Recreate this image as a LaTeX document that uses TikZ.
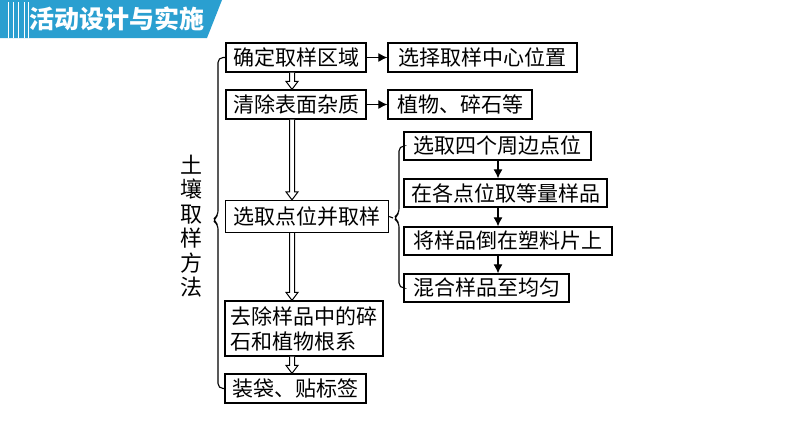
\documentclass[tikz,border=0pt]{standalone}
\usepackage{fontspec}
\setmainfont{Noto Sans CJK SC}
\usetikzlibrary{arrows.meta,calc}
\definecolor{hblue}{HTML}{2A9FD0}
\tikzset{
 bx/.style={draw,line width=1.3pt,inner sep=0pt,font=\fontsize{21}{25}\selectfont,align=left},
 sarr/.style={line width=1.1pt,-{Latex[length=9pt,width=9pt]}},
 hol/.style={draw,line width=1pt,fill=white,line join=miter},
 brc/.style={line width=1.1pt,rounded corners=5pt}
}
\newcommand{\hollowarrow}[2]{%
 \path[hol] let \p1=(#1), \p2=(#2) in
  (\x1-2.5,\y1) -- (\x1-2.5,\y2+8) -- (\x1-6,\y2+8) -- (\x1,\y2) -- (\x1+6,\y2+8) -- (\x1+2.5,\y2+8) -- (\x1+2.5,\y1);}
\begin{document}
\begin{tikzpicture}[x=1pt,y=-1pt]
\useasboundingbox (0,0) rectangle (794,447);
% header
\fill[hblue] (0,0) -- (222,0) -- (207,38) -- (0,38) -- cycle;
\foreach \xx in {8,13,18,24,28} \draw[white,line width=1pt] (\xx,2) -- (\xx,38);
\node[anchor=west,text=white,font=\fontsize{25}{28}\bfseries\selectfont,inner sep=0pt] (hd) at (29,19) {活动设计与实施};
% boxes
\node[bx,minimum width=140,minimum height=29] (b1) at (296,57.5) {确定取样区域};
\node[bx,minimum width=140,minimum height=29] (b2) at (296,104.5) {清除表面杂质};
\node[bx,minimum width=163,minimum height=32] (b3) at (307,216.5) {选取点位并取样};
\node[bx,minimum width=158,minimum height=55] (b4) at (304,328.5) {去除样品中的碎\\石和植物根系};
\node[bx,minimum width=141,minimum height=29] (b5) at (295.5,388.5) {装袋、贴标签};
\node[bx,minimum width=189,minimum height=29] (r1) at (482.5,57.5) {选择取样中心位置};
\node[bx,minimum width=144,minimum height=29] (r2) at (460,104.5) {植物、碎石等};
\node[bx,minimum width=187,minimum height=28] (s1) at (497.5,146) {选取四个周边点位};
\node[bx,minimum width=203,minimum height=28] (s2) at (505.5,193) {在各点位取等量样品};
\node[bx,minimum width=208,minimum height=28] (s3) at (508,241) {将样品倒在塑料片上};
\node[bx,minimum width=165,minimum height=28] (s4) at (486.5,288) {混合样品至均匀};
% arrows
\draw[sarr] (b1) -- (r1);
\draw[sarr] (b2) -- (r2);
\coordinate (ax) at (498,0);
\draw[sarr] (s1.south -| ax) -- (s2.north -| ax);
\draw[sarr] (s2.south -| ax) -- (s3.north -| ax);
\draw[sarr] (s3.south -| ax) -- (s4.north -| ax);
\coordinate (hx) at (292,0);
\hollowarrow{b1.south -| hx}{b2.north -| hx}
\hollowarrow{b2.south -| hx}{b3.north -| hx}
\hollowarrow{b3.south -| hx}{b4.north -| hx}
\hollowarrow{b4.south -| hx}{b5.north -| hx}
% big brace
\draw[brc] (b1.west) -| (218,216) -- (212,220) -- (218,224) |- (b5.west);
\node[font=\fontsize{22}{24.5}\selectfont,align=center,inner sep=0pt] (lab) at (191,226) {土\\壤\\取\\样\\方\\法};
% small brace
\draw[brc] (s1.west) -| (399,214) -- (393,218) -- (399,222) |- (s4.west);
\draw[line width=1.1pt] (b3.east) -- (393,218);
\end{tikzpicture}
\end{document}
